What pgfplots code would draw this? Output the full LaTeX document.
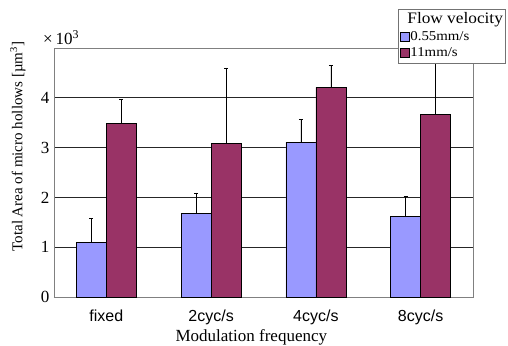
\documentclass[border=0pt]{standalone}
\usepackage{pgfplots}
\pgfplotsset{compat=1.18}
\usepackage{fontspec}
\setmainfont{Liberation Serif}
\newfontfamily\arialfont{Liberation Sans}
\definecolor{cblue}{RGB}{153,153,255}
\definecolor{cred}{RGB}{153,51,102}
\begin{document}
\begin{tikzpicture}
\useasboundingbox (-54bp,-49bp) rectangle (454bp,297bp);
\begin{axis}[
  at={(0,0)}, anchor=south west,
  scale only axis, width=419bp, height=249bp,
  xmin=-0.5, xmax=3.5, ymin=0, ymax=5,
  xtick={0,1,2,3}, xticklabels={fixed,2cyc/s,4cyc/s,8cyc/s},
  ytick={0,1,2,3,4},
  major tick length=0pt,
  axis line style={draw=black!50, line width=0.8bp},
  ymajorgrids, grid style={draw=black!85, line width=0.8bp},
  /pgf/number format/assume math mode=true,
  tick label style={font=\fontsize{17bp}{19bp}\selectfont},
  xticklabel style={font=\arialfont\fontsize{16bp}{18bp}\selectfont, anchor=base, yshift=-24bp},
  yticklabel style={xshift=-1bp},
  xlabel={Modulation frequency},
  xlabel style={font=\fontsize{17bp}{19bp}\selectfont, at={(axis description cs:0.471,0)}, anchor=base, yshift=-44.7bp},
  ylabel={Total Area of micro hollows [µm\textsuperscript{3}]},
  ylabel style={font=\fontsize{15bp}{17bp}\selectfont, at={(axis description cs:-0.086,0.604)}, anchor=center},
  legend style={at={(axis description cs:0.821,1.157)}, anchor=north west,
    draw=black!55, line width=0.6bp, font=\fontsize{13.5bp}{15bp}\selectfont,
    inner xsep=2bp, inner ysep=4bp, row sep=3bp,
    nodes={inner sep=0.5bp, text height=10bp, text depth=2.5bp},
    cells={anchor=west}, legend cell align=left},
  legend image code/.code={\draw[#1, draw=black, line width=0.6bp] (0bp,-4.5bp) rectangle (9bp,4.5bp);},
  error bars/error bar style={black, line width=0.7bp},
  error bars/error mark options={black, line width=0.7bp, mark size=2bp, rotate=90},
  clip=false,
]
\addlegendimage{empty legend}
\addlegendentry{\hspace{-3bp}\scalebox{1.08}[1]{\fontsize{16bp}{18bp}\selectfont Flow velocity}\hspace{6bp}}
\addplot[ybar, bar width=30bp, bar shift=0pt, fill=cblue, draw=black, line width=0.7bp,
  error bars/.cd, y dir=plus, y explicit]
  coordinates {(-0.1432,1.10) +- (0,0.48) (0.8568,1.68) +- (0,0.41) (1.8568,3.11) +- (0,0.45) (2.8568,1.61) +- (0,0.41)};
\addlegendentry{\scalebox{1.1}[1]{0.55mm/s}}
\addplot[ybar, bar width=30bp, bar shift=0pt, fill=cred, draw=black, line width=0.7bp,
  error bars/.cd, y dir=plus, y explicit]
  coordinates {(0.1432,3.48) +- (0,0.49) (1.1432,3.09) +- (0,1.51) (2.1432,4.21) +- (0,0.45) (3.1432,3.67) +- (0,1.07)};
\addlegendentry{\scalebox{1.1}[1]{11mm/s}}
\node[anchor=base west, inner sep=0pt, font=\fontsize{17bp}{19bp}\selectfont] at (axis description cs:0,1) [xshift=-11bp, yshift=3bp] {×\,10\textsuperscript{3}};
\end{axis}
\end{tikzpicture}
\end{document}
